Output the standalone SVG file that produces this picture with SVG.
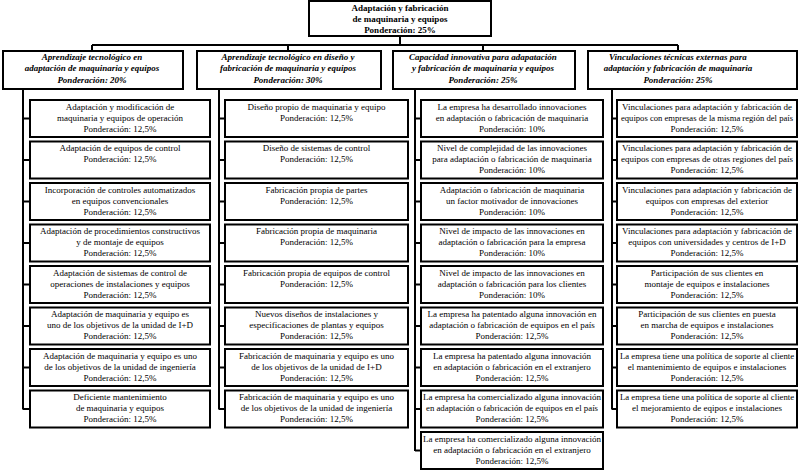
<svg xmlns="http://www.w3.org/2000/svg" width="800" height="471" viewBox="0 0 800 471">
<style>
rect{fill:#fff;stroke:#000;stroke-width:2}
text{font-family:"Liberation Serif","Times New Roman",serif;font-size:9px;text-anchor:middle;fill:#000}
.top{font-weight:bold}
.l2{font-weight:bold;font-style:italic}
#connectors path{fill:none;stroke:#000;stroke-width:2}
</style>
<rect x="0" y="0" width="800" height="471" style="fill:#fff;stroke:none"/>
<g id="connectors">
<path d="M400 36V45M92 45H678M92 45V51M288 45V51M483 45V51M678 45V51"/>
<path d="M23 89V409.5M23 118.5H30M23 160H30M23 201.5H30M23 243H30M23 284.5H30M23 326H30M23 367.5H30M23 409H30"/>
<path d="M219 89V409.5M219 118.5H225M219 160H225M219 201.5H225M219 243H225M219 284.5H225M219 326H225M219 367.5H225M219 409H225"/>
<path d="M415 89V451M415 118.5H421M415 160H421M415 201.5H421M415 243H421M415 284.5H421M415 326H421M415 367.5H421M415 409H421M415 450.5H421"/>
<path d="M612 89V409.5M612 118.5H617M612 160H617M612 201.5H617M612 243H617M612 284.5H617M612 326H617M612 367.5H617M612 409H617"/>
</g>
<g id="root"><rect x="309" y="1" width="182" height="35"/>
<text class="top" x="400" y="10.5">Adaptación y fabricación</text><text class="top" x="400" y="21.5">de maquinaria y equipos</text><text class="top" x="400" y="32.5">Ponderación: 25%</text></g>
<g id="b1"><rect x="3" y="51" width="180" height="38"/>
<text class="l2" x="92" y="60">Aprendizaje tecnológico en</text><text class="l2" x="92" y="71.3">adaptación de maquinaria y equipos</text><text class="l2" x="92" y="82.5">Ponderación: 20%</text></g>
<g id="b2"><rect x="197" y="51" width="184" height="38"/>
<text class="l2" x="288" y="60">Aprendizaje tecnológico en diseño y</text><text class="l2" x="288" y="71.3">fabricación de maquinaria y equipos</text><text class="l2" x="288" y="82.5">Ponderación: 30%</text></g>
<g id="b3"><rect x="393" y="51" width="182" height="38"/>
<text class="l2" x="483" y="60">Capacidad innovativa para adapatación</text><text class="l2" x="483" y="71.3">y fabricación de maquinaria y equipos</text><text class="l2" x="483" y="82.5">Ponderación: 25%</text></g>
<g id="b4"><rect x="588" y="51" width="209" height="38"/>
<text class="l2" x="678" y="60">Vinculaciones técnicas externas para</text><text class="l2" x="678" y="71.3">adaptación y fabricación de maquinaria</text><text class="l2" x="678" y="82.5">Ponderación: 25%</text></g>

<g id="c1_1"><rect x="30" y="100" width="180" height="37"/><text x="120" y="109.8">Adaptación y modificación de</text><text x="120" y="120.8">maquinaria y equipos de operación</text><text x="120" y="131.8">Ponderación: 12,5%</text></g>
<g id="c1_2"><rect x="30" y="141.5" width="180" height="37"/><text x="120" y="151.3">Adaptación de equipos de control</text><text x="120" y="162.3">Ponderación: 12,5%</text></g>
<g id="c1_3"><rect x="30" y="183" width="180" height="37"/><text x="120" y="192.8">Incorporación de controles automatizados</text><text x="120" y="203.8">en equipos convencionales</text><text x="120" y="214.8">Ponderación: 12,5%</text></g>
<g id="c1_4"><rect x="30" y="224.5" width="180" height="37"/><text x="120" y="234.3">Adaptación de procedimientos constructivos</text><text x="120" y="245.3">y de montaje de equipos</text><text x="120" y="256.3">Ponderación: 12,5%</text></g>
<g id="c1_5"><rect x="30" y="266" width="180" height="37"/><text x="120" y="275.8">Adaptación de sistemas de control de</text><text x="120" y="286.8">operaciones de instalaciones y equipos</text><text x="120" y="297.8">Ponderación: 12,5%</text></g>
<g id="c1_6"><rect x="30" y="307.5" width="180" height="37"/><text x="120" y="317.3">Adaptación de maquinaria y equipo es</text><text x="120" y="328.3">uno de los objetivos de la unidad de I+D</text><text x="120" y="339.3">Ponderación: 12,5%</text></g>
<g id="c1_7"><rect x="30" y="349" width="180" height="37"/><text x="120" y="358.8">Adaptación de maquinaria y equipo es uno</text><text x="120" y="369.8">de los objetivos de la unidad de ingeniería</text><text x="120" y="380.8">Ponderación: 12,5%</text></g>
<g id="c1_8"><rect x="30" y="390.5" width="180" height="37"/><text x="120" y="400.3">Deficiente mantenimiento</text><text x="120" y="411.3">de maquinaria y equipos</text><text x="120" y="422.3">Ponderación: 12,5%</text></g>

<g id="c2_1"><rect x="225" y="100" width="183" height="37"/><text x="316.5" y="109.8">Diseño propio de maquinaria y equipo</text><text x="316.5" y="120.8">Ponderación: 12,5%</text></g>
<g id="c2_2"><rect x="225" y="141.5" width="183" height="37"/><text x="316.5" y="151.3">Diseño de sistemas de control</text><text x="316.5" y="162.3">Ponderación: 12,5%</text></g>
<g id="c2_3"><rect x="225" y="183" width="183" height="37"/><text x="316.5" y="192.8">Fabricación propia de partes</text><text x="316.5" y="203.8">Ponderación: 12,5%</text></g>
<g id="c2_4"><rect x="225" y="224.5" width="183" height="37"/><text x="316.5" y="234.3">Fabricación propia de maquinaria</text><text x="316.5" y="245.3">Ponderación: 12,5%</text></g>
<g id="c2_5"><rect x="225" y="266" width="183" height="37"/><text x="316.5" y="275.8">Fabricación propia de equipos de control</text><text x="316.5" y="286.8">Ponderación: 12,5%</text></g>
<g id="c2_6"><rect x="225" y="307.5" width="183" height="37"/><text x="316.5" y="317.3">Nuevos diseños de instalaciones y</text><text x="316.5" y="328.3">especificaciones de plantas y equipos</text><text x="316.5" y="339.3">Ponderación: 12,5%</text></g>
<g id="c2_7"><rect x="225" y="349" width="183" height="37"/><text x="316.5" y="358.8">Fabricación de maquinaria y equipo es uno</text><text x="316.5" y="369.8">de los objetivos de la unidad de I+D</text><text x="316.5" y="380.8">Ponderación: 12,5%</text></g>
<g id="c2_8"><rect x="225" y="390.5" width="183" height="37"/><text x="316.5" y="400.3">Fabricación de maquinaria y equipo es uno</text><text x="316.5" y="411.3">de los objetivos de la unidad de ingeniería</text><text x="316.5" y="422.3">Ponderación: 12,5%</text></g>

<g id="c3_1"><rect x="421" y="100" width="182" height="37"/><text x="512" y="109.8">La empresa ha desarrollado innovaciones</text><text x="512" y="120.8">en adaptación o fabricación de maquinaria</text><text x="512" y="131.8">Ponderación: 10%</text></g>
<g id="c3_2"><rect x="421" y="141.5" width="182" height="37"/><text x="512" y="151.3">Nivel de complejidad de las innovaciones</text><text x="512" y="162.3">para adaptación o fabricación de maquinaria</text><text x="512" y="173.3">Ponderación: 10%</text></g>
<g id="c3_3"><rect x="421" y="183" width="182" height="37"/><text x="512" y="192.8">Adaptación o fabricación de maquinaria</text><text x="512" y="203.8">un factor motivador de innovaciones</text><text x="512" y="214.8">Ponderación: 10%</text></g>
<g id="c3_4"><rect x="421" y="224.5" width="182" height="37"/><text x="512" y="234.3">Nivel de impacto de las innovaciones en</text><text x="512" y="245.3">adaptación o fabricación para la empresa</text><text x="512" y="256.3">Ponderación: 10%</text></g>
<g id="c3_5"><rect x="421" y="266" width="182" height="37"/><text x="512" y="275.8">Nivel de impacto de las innovaciones en</text><text x="512" y="286.8">adaptación o fabricación para los clientes</text><text x="512" y="297.8">Ponderación: 10%</text></g>
<g id="c3_6"><rect x="421" y="307.5" width="182" height="37"/><text x="512" y="317.3">La empresa ha patentado alguna innovación en</text><text x="512" y="328.3">adaptación o fabricación de equipos en el país</text><text x="512" y="339.3">Ponderación: 12,5%</text></g>
<g id="c3_7"><rect x="421" y="349" width="182" height="37"/><text x="512" y="358.8">La empresa ha patentado alguna innovación</text><text x="512" y="369.8">en adaptación o fabricación en el extranjero</text><text x="512" y="380.8">Ponderación: 12,5%</text></g>
<g id="c3_8"><rect x="421" y="390.5" width="182" height="37"/><text x="512" y="400.3">La empresa ha comercializado alguna innovación</text><text x="512" y="411.3" textLength="172" lengthAdjust="spacingAndGlyphs">en adaptación o fabricación de equipos en el país</text><text x="512" y="422.3">Ponderación: 12,5%</text></g>
<g id="c3_9"><rect x="421" y="432" width="182" height="37"/><text x="512" y="441.8">La empresa ha comercializado alguna innovación</text><text x="512" y="452.8">en adaptación o fabricación en el extranjero</text><text x="512" y="463.8">Ponderación: 12,5%</text></g>

<g id="c4_1"><rect x="617" y="100" width="180" height="37"/><text x="707" y="109.8">Vinculaciones para adaptación y fabricación de</text><text x="707" y="120.8" textLength="172" lengthAdjust="spacingAndGlyphs">equipos con empresas de la misma región del país</text><text x="707" y="131.8">Ponderación: 12,5%</text></g>
<g id="c4_2"><rect x="617" y="141.5" width="180" height="37"/><text x="707" y="151.3">Vinculaciones para adaptación y fabricación de</text><text x="707" y="162.3">equipos con empresas de otras regiones del país</text><text x="707" y="173.3">Ponderación: 12,5%</text></g>
<g id="c4_3"><rect x="617" y="183" width="180" height="37"/><text x="707" y="192.8">Vinculaciones para adaptación y fabricación de</text><text x="707" y="203.8">equipos con empresas del exterior</text><text x="707" y="214.8">Ponderación: 12,5%</text></g>
<g id="c4_4"><rect x="617" y="224.5" width="180" height="37"/><text x="707" y="234.3">Vinculaciones para adaptación y fabricación de</text><text x="707" y="245.3">equipos con universidades y centros de I+D</text><text x="707" y="256.3">Ponderación: 12,5%</text></g>
<g id="c4_5"><rect x="617" y="266" width="180" height="37"/><text x="707" y="275.8">Participación de sus clientes en</text><text x="707" y="286.8">montaje de equipos e instalaciones</text><text x="707" y="297.8">Ponderación: 12,5%</text></g>
<g id="c4_6"><rect x="617" y="307.5" width="180" height="37"/><text x="707" y="317.3">Participación de sus clientes en puesta</text><text x="707" y="328.3">en marcha de equipos e instalaciones</text><text x="707" y="339.3">Ponderación: 12,5%</text></g>
<g id="c4_7"><rect x="617" y="349" width="180" height="37"/><text x="707" y="358.8" textLength="174" lengthAdjust="spacingAndGlyphs">La empresa tiene una política de soporte al cliente</text><text x="707" y="369.8">el mantenimiento de equipos e instalaciones</text><text x="707" y="380.8">Ponderación: 12,5%</text></g>
<g id="c4_8"><rect x="617" y="390.5" width="180" height="37"/><text x="707" y="400.3" textLength="174" lengthAdjust="spacingAndGlyphs">La empresa tiene una política de soporte al cliente</text><text x="707" y="411.3">el mejoramiento de eqipos e instalaciones</text><text x="707" y="422.3">Ponderación: 12,5%</text></g>
</svg>
